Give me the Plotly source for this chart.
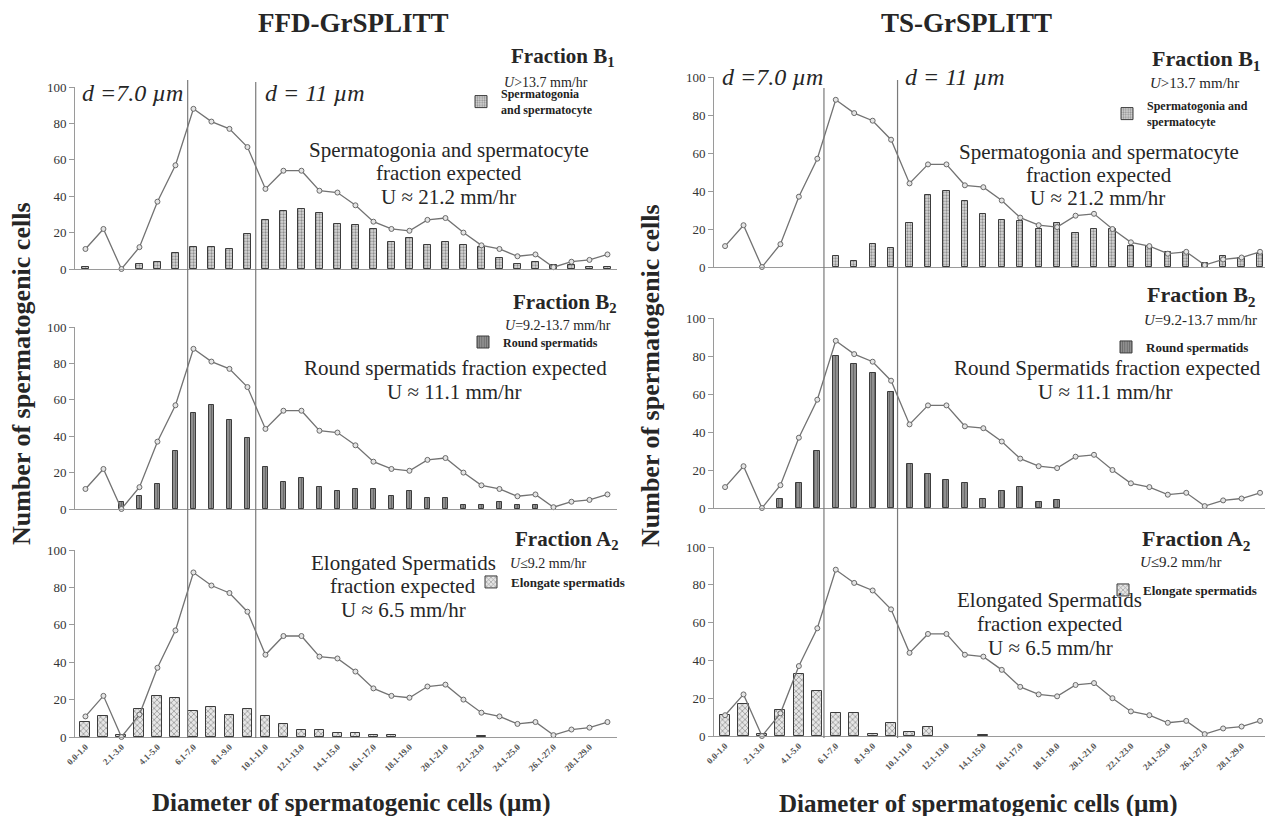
import plotly.graph_objects as go
from plotly.subplots import make_subplots

# The html body keeps its 8 px margin, so every position below is given in
# page pixels and shifted by M when converted to paper fractions.
PAGE_W, PAGE_H, M = 1273, 816, 8
W, H = PAGE_W, PAGE_H

categories = ["0.0-1.0", "1.1-2.0", "2.1-3.0", "3.1-4.0", "4.1-5.0", "5.1-6.0",
              "6.1-7.0", "7.1-8.0", "8.1-9.0", "9.1-10.0", "10.1-11.0", "11.1-12.0",
              "12.1-13.0", "13.1-14.0", "14.1-15.0", "15.1-16.0", "16.1-17.0", "17.1-18.0",
              "18.1-19.0", "19.1-20.0", "20.1-21.0", "21.1-22.0", "22.1-23.0", "23.1-24.0",
              "24.1-25.0", "25.1-26.0", "26.1-27.0", "27.1-28.0", "28.1-29.0", "29.1-30.0"]
tick_labels = ["0.0-1.0", "2.1-3.0", "4.1-5.0", "6.1-7.0", "8.1-9.0", "10.1-11.0",
               "12.1-13.0", "14.1-15.0", "16.1-17.0", "18.1-19.0", "20.1-21.0",
               "22.1-23.0", "24.1-25.0", "26.1-27.0", "28.1-29.0"]

# total distribution (same in every panel)
total_cells = [11, 22, 0, 12, 37, 57, 88, 81, 77, 67, 44, 54, 54, 43, 42, 35, 26, 22,
               21, 27, 28, 20, 13, 11, 7, 8, 1, 4, 5, 8]

N = None
ffd_b1 = [1, N, N, 3, 4, 9, 12, 12, 11, 19, 27, 32, 33, 31, 25, 24, 22, 15, 17, 13,
          15, 13, 12, 6, 3, 4, 2, 2, 1, 1]
ffd_b2 = [N, N, 4, 7, 14, 32, 53, 57, 49, 39, 23, 15, 17, 12, 10, 11, 11, 7, 10, 6,
          6, 2, 2, 4, 2, 2, N, N, N, N]
ffd_a2 = [8, 11, 1, 15, 22, 21, 14, 16, 12, 15, 11, 7, 4, 4, 2, 2, 1, 1, N, N,
          N, N, 0.5, N, N, N, N, N, N, N]
ts_b1 = [N, N, N, N, N, N, 6, 3, 12, 10, 23, 38, 40, 35, 28, 25, 24, 20, 23, 18,
         20, 20, 11, 11, 8, 8, 2, 6, 5, 7]
ts_b2 = [N, N, N, 5, 13, 30, 80, 76, 71, 61, 23, 18, 15, 13, 5, 9, 11, 3, 4, N,
         N, N, N, N, N, N, N, N, N, N]
ts_a2 = [11, 17, 1, 14, 33, 24, 12, 12, 1, 7, 2, 5, N, N, 0.5, N, N, N, N, N,
         N, N, N, N, N, N, N, N, N, N]

# boundary lines d = 7.0 um and d = 11 um, at the category-axis positions drawn
boundary_ffd = [5.68, 9.46]
boundary_ts = [5.36, 9.35]

fraction_names = ["Spermatogonia<br>and spermatocyte", "Round spermatids", "Elongate spermatids"]
fraction_names_ts = ["Spermatogonia and<br>spermatocyte", "Round spermatids", "Elongate spermatids"]

SERIF = "Liberation Serif"
TXT = "#262626"


def px(x):
    return (x - M) / W


def py(y):
    return 1 - (y - M) / H


fig = make_subplots(rows=3, cols=2)
xs = list(range(len(categories)))

pat_b1 = dict(shape=".", fgcolor="#444", bgcolor="#d8d8d8", size=3, solidity=0.45)
pat_b2 = dict(shape="|", fgcolor="#3a3a3a", bgcolor="#9a9a9a", size=3, solidity=0.5)
pat_a2 = dict(shape="x", fgcolor="#444", bgcolor="#e6e6e6", size=4, solidity=0.35)

series = [
    (1, 1, ffd_b1, fraction_names[0], pat_b1, 0.34, "legend"),
    (1, 2, ts_b1, fraction_names_ts[0], pat_b1, 0.34, "legend2"),
    (2, 1, ffd_b2, fraction_names[1], pat_b2, 0.32, "legend3"),
    (2, 2, ts_b2, fraction_names[1], pat_b2, 0.33, "legend4"),
    (3, 1, ffd_a2, fraction_names[2], pat_a2, 0.55, "legend5"),
    (3, 2, ts_a2, fraction_names[2], pat_a2, 0.55, "legend6"),
]

for r, c, vals, name, pat, bw, lg in series:
    fig.add_trace(go.Bar(x=xs, y=vals, width=bw, name=name, legend=lg,
                         marker=dict(color=pat["bgcolor"], pattern=pat,
                                     line=dict(color="#3c3c3c", width=1))),
                  row=r, col=c)
    fig.add_trace(go.Scatter(x=xs, y=total_cells, mode="lines+markers", showlegend=False,
                             line=dict(color="#727272", width=1.3), cliponaxis=False,
                             marker=dict(symbol="circle", size=5, color="#e4e4e4",
                                         line=dict(color="#6a6a6a", width=1))),
                  row=r, col=c)

# domains (page pixels)
left_x = [px(75), px(617)]
right_x = [px(714), px(1270)]
ydoms_left = [[py(269), py(87)], [py(509), py(327)], [py(737), py(550)]]
ydoms_right = [[py(267), py(77)], [py(508), py(318)], [py(736), py(547)]]

for r in range(3):
    for c in range(2):
        idx = r * 2 + c + 1
        xa = "xaxis" if idx == 1 else f"xaxis{idx}"
        ya = "yaxis" if idx == 1 else f"yaxis{idx}"
        xr = [-0.58, 29.53] if c == 0 else [-0.6, 29.54]
        bottom = (r == 2)
        fig.layout[xa].update(
            domain=left_x if c == 0 else right_x, range=xr,
            showline=True, linecolor="#9a9a9a", linewidth=1, showgrid=False, zeroline=False,
            tickmode="array", tickvals=list(range(0, 30, 2)), ticktext=tick_labels,
            showticklabels=bottom, tickangle=-45, ticks="",
            tickfont=dict(family=SERIF, size=9, color="#555", weight="bold"))
        fig.layout[ya].update(
            domain=(ydoms_left if c == 0 else ydoms_right)[r], range=[0, 100],
            showline=True, linecolor="#9a9a9a", linewidth=1, showgrid=False, zeroline=False,
            tickvals=[0, 20, 40, 60, 80, 100], ticks="outside", ticklen=5, tickcolor="#9a9a9a",
            tickfont=dict(family=SERIF, size=13, color="#333"))

shapes = []
for xref, bps, tops in [("x5", boundary_ffd, (80, 82)), ("x6", boundary_ts, (88, 80))]:
    for bp, ytop in zip(bps, tops):
        shapes.append(dict(type="line", xref=xref, yref="paper", x0=bp, x1=bp,
                           y0=py(738), y1=py(ytop), line=dict(color="#7a7a7a", width=1.2)))

ann = []


def A(text, x, y, size, bold=False, italic=False, xanchor="center", angle=0, color=TXT):
    t = f"<i>{text}</i>" if italic else text
    ann.append(dict(text=t, x=px(x), y=py(y), xref="paper", yref="paper", showarrow=False,
                    xanchor=xanchor, yanchor="middle", align="center", textangle=angle,
                    font=dict(family=SERIF, size=size, color=color,
                              weight="bold" if bold else "normal")))


# titles
A("FFD-GrSPLITT", 353, 23, 27, bold=True)
A("TS-GrSPLITT", 966, 23, 27, bold=True)
A("Diameter of spermatogenic cells (µm)", 351, 803, 25, bold=True)
A("Diameter of spermatogenic cells (µm)", 978, 804, 25, bold=True)
A("Number of spermatogenic cells", 22, 374, 26, bold=True, angle=-90)
A("Number of spermatogenic cells", 651, 375, 26, bold=True, angle=-90)

# d labels
A("d =7.0 µm", 80, 93, 24, italic=True, xanchor="left")
A("d = 11 µm", 263, 93, 24, italic=True, xanchor="left")
A("d =7.0 µm", 720, 77, 24, italic=True, xanchor="left")
A("d = 11 µm", 903, 77, 24, italic=True, xanchor="left")

# expectations (one annotation per line to keep the tight line spacing)
for txt, x, y in [
    ("Spermatogonia and spermatocyte", 449, 150), ("fraction expected", 449, 173),
    ("U ≈ 21.2 mm/hr", 448, 197),
    ("Round spermatids fraction expected", 455, 368), ("U ≈ 11.1 mm/hr", 454, 392),
    ("Elongated Spermatids", 403, 563), ("fraction expected", 403, 586),
    ("U ≈ 6.5 mm/hr", 403, 610),
    ("Spermatogonia and spermatocyte", 1099, 152), ("fraction expected", 1099, 175),
    ("U ≈ 21.2 mm/hr", 1097, 198),
    ("Round Spermatids fraction expected", 1107, 368), ("U ≈ 11.1 mm/hr", 1105, 392),
    ("Elongated Spermatids", 1049, 600), ("fraction expected", 1050, 624),
    ("U ≈ 6.5 mm/hr", 1050, 648),
]:
    A(txt, x, y, 21)

# fraction labels
A("Fraction B<sub>1</sub>", 617, 57, 21, bold=True, xanchor="right")
A("<i>U</i>&gt;13.7 mm/hr", 502, 82, 14, xanchor="left")
A("Fraction B<sub>2</sub>", 619, 303, 21, bold=True, xanchor="right")
A("<i>U</i>=9.2-13.7 mm/hr", 503, 326, 14, xanchor="left")
A("Fraction A<sub>2</sub>", 621, 540, 21, bold=True, xanchor="right")
A("<i>U</i>≤9.2 mm/hr", 508, 563, 14, xanchor="left")

A("Fraction B<sub>1</sub>", 1263, 60, 22, bold=True, xanchor="right")
A("<i>U</i>&gt;13.7 mm/hr", 1148, 83, 15, xanchor="left")
A("Fraction B<sub>2</sub>", 1258, 296, 22, bold=True, xanchor="right")
A("<i>U</i>=9.2-13.7 mm/hr", 1142, 320, 15, xanchor="left")
A("Fraction A<sub>2</sub>", 1253, 540, 22, bold=True, xanchor="right")
A("<i>U</i>≤9.2 mm/hr", 1138, 562, 15, xanchor="left")

legend_style = dict(bgcolor="rgba(0,0,0,0)", borderwidth=0, itemwidth=30,
                    xanchor="left", yanchor="middle", tracegroupgap=0)


def L(x, y, size):
    d = dict(legend_style)
    d.update(x=px(x), y=py(y), font=dict(family=SERIF, size=size, color="#222", weight="bold"))
    return d


fig.update_layout(
    width=W, height=H, margin=dict(l=0, r=0, t=0, b=0, autoexpand=False),
    paper_bgcolor="white", plot_bgcolor="white",
    barmode="overlay", bargap=0,
    annotations=ann, shapes=shapes,
    legend=L(461, 102, 12),
    legend2=L(1107, 114, 12),
    legend3=L(463, 342, 12),
    legend4=L(1106, 347, 13),
    legend5=L(471, 582, 13),
    legend6=L(1103, 590, 13),
)

fig.write_html("out.html")
